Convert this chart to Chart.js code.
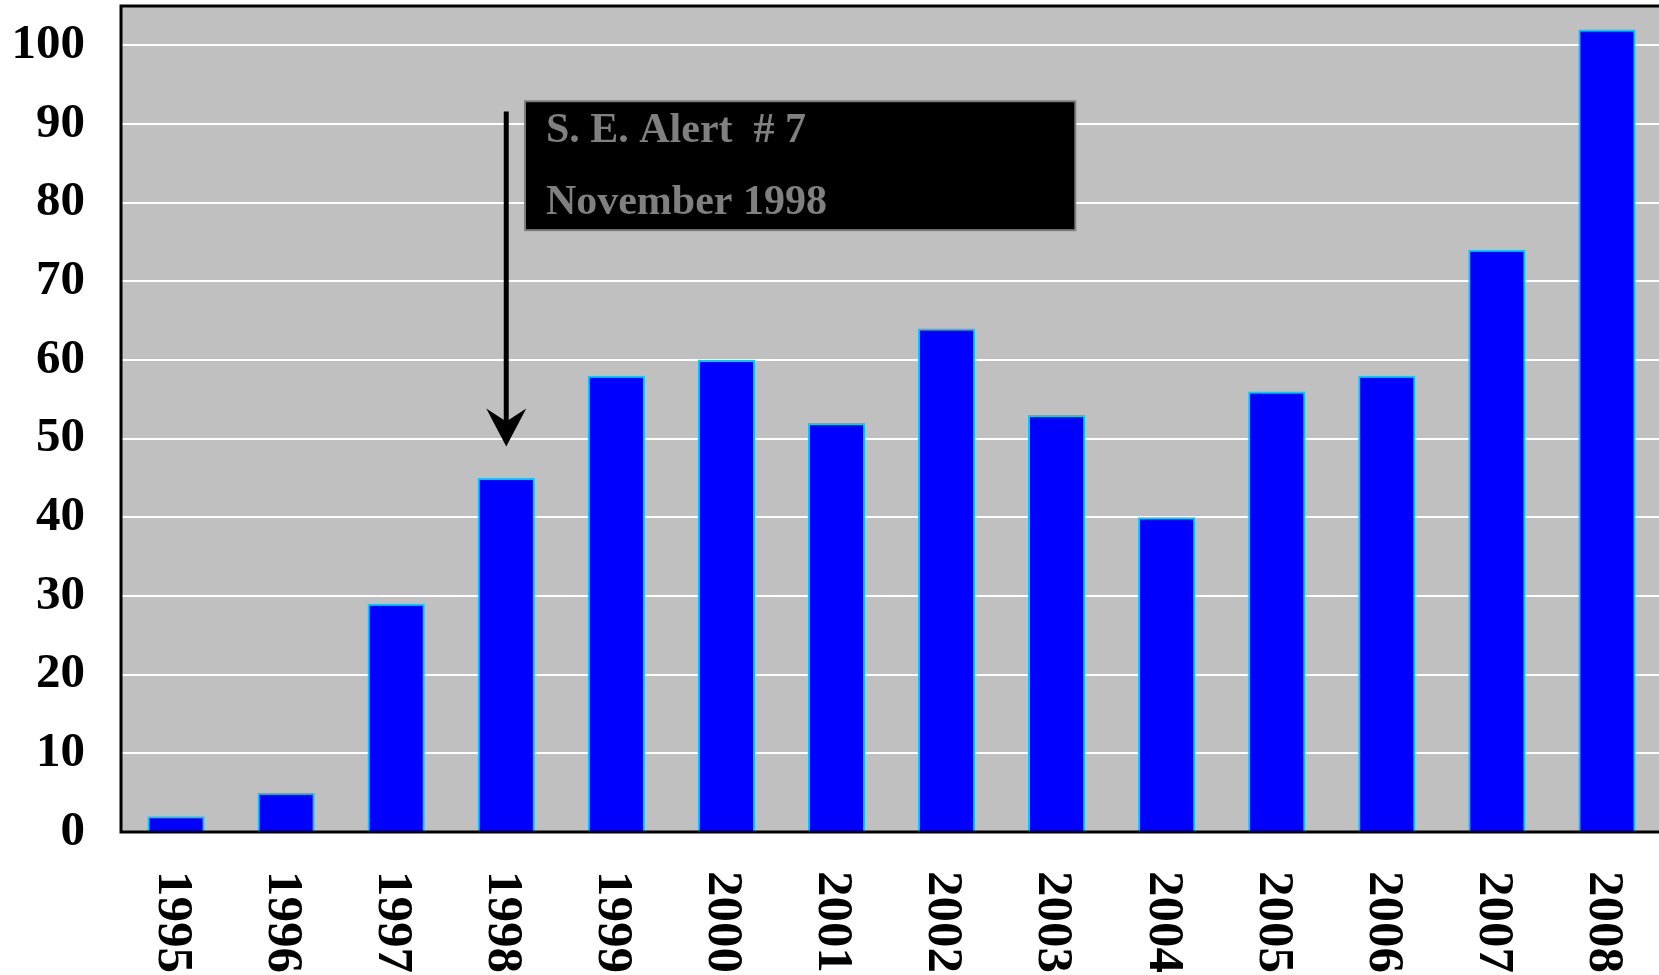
<!DOCTYPE html>
<html>
  <head>
    <title>S. E. Alert</title>
    <meta charset="UTF-8" />
    <style>
      body { margin: 0; overflow: hidden; background: #ffffff; }
    </style>
  </head>
  <body>
    <canvas id="myChart" width="1664" height="975"></canvas>
    <script src="https://cdn.jsdelivr.net/npm/chart.js@4"></script>
    <script>
    var years = ['1995', '1996', '1997', '1998', '1999', '2000', '2001',
                 '2002', '2003', '2004', '2005', '2006', '2007', '2008'];
    var counts = [2, 5, 29, 45, 58, 60, 52, 64, 53, 40, 56, 58, 74, 102];
    var yTicks = [0, 10, 20, 30, 40, 50, 60, 70, 80, 90, 100];

    // note box + arrow, in axis units (category index, value)
    var noteLines = ['S. E. Alert  # 7', 'November 1998'];
    var noteBox = { x0: 3.17, x1: 8.17, y0: 92.9, y1: 76.5 };
    var noteTextX = 3.36;
    var noteBaselines = [87.7, 78.5];
    var arrow = { x: 3, yTop: 91.6, yTip: 49 };

    var serif = "'Liberation Serif', 'Times New Roman', serif";

    var backdrop = {
      id: 'backdrop',
      beforeDraw: function(chart) {
        var a = chart.chartArea, ctx = chart.ctx;
        ctx.save();
        ctx.fillStyle = '#c0c0c0';
        ctx.fillRect(a.left, a.top, a.right - a.left, a.bottom - a.top);
        ctx.restore();
      },
      afterDraw: function(chart) {
        var a = chart.chartArea, ctx = chart.ctx;
        var x = chart.scales.x, y = chart.scales.y;
        ctx.save();
        // frame
        ctx.strokeStyle = '#000000';
        ctx.lineWidth = 3;
        ctx.strokeRect(a.left, a.top, a.right - a.left, a.bottom - a.top);

        // year labels, rotated clockwise
        ctx.fillStyle = '#000000';
        ctx.font = 'bold 51px ' + serif;
        ctx.textAlign = 'left';
        ctx.textBaseline = 'middle';
        years.forEach(function(lab, i) {
          ctx.save();
          ctx.translate(x.getPixelForValue(i) - 4, a.bottom + 39);
          ctx.rotate(Math.PI / 2);
          ctx.fillText(lab, 0, 0);
          ctx.restore();
        });

        // note box
        var bx0 = x.getPixelForValue(noteBox.x0), bx1 = x.getPixelForValue(noteBox.x1);
        var by0 = y.getPixelForValue(noteBox.y0), by1 = y.getPixelForValue(noteBox.y1);
        ctx.fillStyle = '#000000';
        ctx.fillRect(bx0, by0, bx1 - bx0, by1 - by0);
        ctx.strokeStyle = '#808080';
        ctx.lineWidth = 2;
        ctx.strokeRect(bx0, by0, bx1 - bx0, by1 - by0);
        ctx.fillStyle = '#808080';
        ctx.font = 'bold 42px ' + serif;
        ctx.textBaseline = 'alphabetic';
        noteLines.forEach(function(t, i) {
          ctx.fillText(t, x.getPixelForValue(noteTextX), y.getPixelForValue(noteBaselines[i]));
        });

        // arrow
        var ax = x.getPixelForValue(arrow.x);
        var top = y.getPixelForValue(arrow.yTop), tip = y.getPixelForValue(arrow.yTip);
        ctx.strokeStyle = '#000000';
        ctx.lineWidth = 5;
        ctx.beginPath();
        ctx.moveTo(ax, top);
        ctx.lineTo(ax, tip - 20);
        ctx.stroke();
        ctx.fillStyle = '#000000';
        ctx.beginPath();
        ctx.moveTo(ax, tip);
        ctx.lineTo(ax - 20, tip - 38);
        ctx.lineTo(ax, tip - 25);
        ctx.lineTo(ax + 20, tip - 38);
        ctx.closePath();
        ctx.fill();
        ctx.restore();
      }
    };

    var config = {
      type: 'bar',
      data: {
        labels: years,
        datasets: [{
          data: counts,
          backgroundColor: '#0000ff',
          borderColor: '#00ccff',
          borderWidth: 2,
          barPercentage: 0.52,
          categoryPercentage: 1.0
        }]
      },
      options: {
        responsive: false,
        animation: false,
        layout: { padding: { top: 6, right: 2, left: 0, bottom: 0 } },
        plugins: { legend: { display: false }, tooltip: { enabled: false } },
        scales: {
          x: {
            grid: { display: false, drawTicks: false },
            border: { display: false },
            ticks: { display: false },
            afterFit: function(scale) { scale.height = 143; }
          },
          y: {
            min: 0,
            max: 105,
            grid: { color: '#ffffff', lineWidth: 2, drawTicks: false },
            border: { display: false },
            afterBuildTicks: function(scale) {
              scale.ticks = yTicks.map(function(v) { return { value: v }; });
            },
            ticks: {
              padding: 36,
              color: '#000000',
              font: { family: serif, size: 49, weight: 'bold' }
            },
            afterFit: function(scale) {
              scale.width = 121;
              scale.paddingTop = 0;
              scale.paddingBottom = 0;
            }
          }
        }
      },
      plugins: [backdrop]
    };

    var myChart = new Chart(document.getElementById('myChart'), config);
    </script>
  </body>
</html>
